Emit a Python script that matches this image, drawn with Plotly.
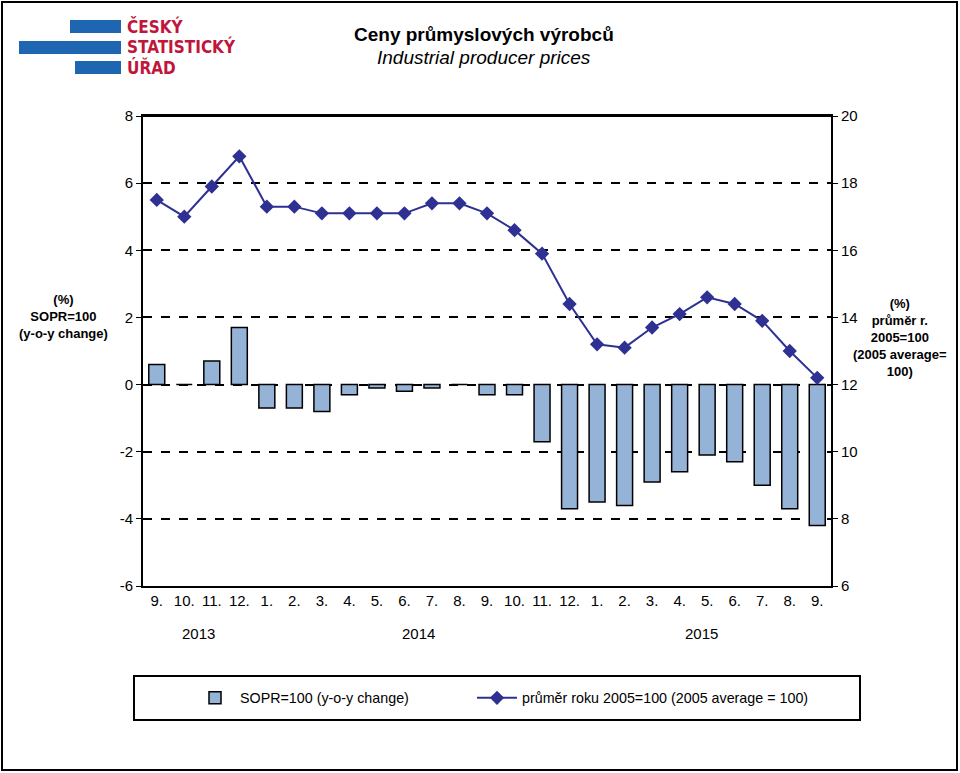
import plotly.graph_objects as go

months = ["9.", "10.", "11.", "12.", "1.", "2.", "3.", "4.", "5.", "6.", "7.", "8.",
          "9.", "10.", "11.", "12.", "1.", "2.", "3.", "4.", "5.", "6.", "7.", "8.", "9."]
yoy = [0.6, 0.0, 0.7, 1.7, -0.7, -0.7, -0.8, -0.3, -0.1, -0.2, -0.1, 0.0,
       -0.3, -0.3, -1.7, -3.7, -3.5, -3.6, -2.9, -2.6, -2.1, -2.3, -3.0, -3.7, -4.2]
avg2005 = [17.5, 17.0, 17.9, 18.8, 17.3, 17.3, 17.1, 17.1, 17.1, 17.1, 17.4, 17.4,
           17.1, 16.6, 15.9, 14.4, 13.2, 13.1, 13.7, 14.1, 14.6, 14.4, 13.9, 13.0, 12.2]
years = ["2013", "2014", "2015"]
year_pos = [1.5, 9.5, 19.8]

left_ticks = [-6, -4, -2, 0, 2, 4, 6, 8]
left_ticktext = ["-6", "-4", "-2", "0", "2", "4", "6", "8"]
right_ticks = [6, 8, 10, 12, 14, 16, 18, 20]

x = list(range(len(months)))

W, H = 960, 773
L, R, T, B = 143, 831, 116, 586

def px(xp):
    return (xp - L) / (R - L)

def py(yp):
    return (B - yp) / (B - T)

FONT = "Liberation Sans, Arial, sans-serif"

fig = go.Figure()
fig.add_trace(go.Bar(
    x=x, y=yoy, name="SOPR=100 (y-o-y change)",
    marker=dict(color="#95B3D7", line=dict(color="#000000", width=1.5)),
    width=0.58, legend="legend",
))
fig.add_trace(go.Scatter(
    x=x, y=avg2005, yaxis="y2", mode="lines+markers",
    name="průměr roku 2005=100 (2005 average = 100)",
    line=dict(color="#2E3192", width=2),
    marker=dict(symbol="diamond", size=11, color="#2E3192"),
    legend="legend2",
))

leg_common = dict(orientation="h", yanchor="middle", y=py(698), xanchor="left",
                  font=dict(size=14.3), bgcolor="rgba(0,0,0,0)", itemwidth=40)

fig.update_layout(
    width=W, height=H,
    margin=dict(l=L, r=W - R, t=T, b=H - B),
    plot_bgcolor="white", paper_bgcolor="white",
    font=dict(family=FONT, size=15, color="#000"),
    showlegend=True,
    legend=dict(x=px(190), **leg_common),
    legend2=dict(x=px(472), **leg_common),
    xaxis=dict(
        tickmode="array", tickvals=x, ticktext=months, range=[-0.5, len(months) - 0.5],
        showgrid=False, showline=True, linecolor="#000", linewidth=2, mirror=True,
        ticks="", tickfont=dict(size=15), zeroline=False,
    ),
    yaxis=dict(
        range=[-6, 8], tickmode="array", tickvals=left_ticks, ticktext=left_ticktext,
        showgrid=True, gridcolor="#000", griddash="dash", gridwidth=1.5,
        showline=True, linecolor="#000", linewidth=2, mirror=False,
        ticks="outside", ticklen=5, tickcolor="#000", zeroline=False,
        tickfont=dict(size=15),
    ),
    yaxis2=dict(
        range=[6, 20], tickmode="array", tickvals=right_ticks, overlaying="y", side="right",
        showgrid=False, showline=True, linecolor="#000", linewidth=2,
        ticks="outside", ticklen=5, tickcolor="#000", zeroline=False,
        tickfont=dict(size=15),
    ),
)

shapes = []
# outer frame
shapes.append(dict(type="rect", xref="paper", yref="paper", x0=px(2), x1=px(957), y0=py(2), y1=py(770),
                   line=dict(color="#000", width=2), fillcolor="rgba(0,0,0,0)", layer="below"))
# top solid border of plot
shapes.append(dict(type="line", xref="paper", yref="paper", x0=0, x1=1, y0=1, y1=1,
                   line=dict(color="#000", width=2)))
# legend box
shapes.append(dict(type="rect", xref="paper", yref="paper", x0=px(134), x1=px(860), y0=py(676), y1=py(720),
                   line=dict(color="#000", width=2), fillcolor="rgba(0,0,0,0)"))
# logo stripes
for (x0, x1, y0, y1) in [(70, 121, 20, 33), (19, 121, 41, 54), (75, 121, 61, 74)]:
    shapes.append(dict(type="rect", xref="paper", yref="paper", x0=px(x0), x1=px(x1), y0=py(y1), y1=py(y0),
                       line=dict(width=0), fillcolor="#1F66B2"))
fig.update_layout(shapes=shapes)

ann = []
LOGO_FONT = "DejaVu Sans Condensed, Liberation Sans Narrow, Liberation Sans, sans-serif"
for txt, yy in [("ČESKÝ", 27), ("STATISTICKÝ", 47), ("ÚŘAD", 67)]:
    ann.append(dict(text="<b>" + txt + "</b>", xref="paper", yref="paper", x=px(125), y=py(yy),
                    xanchor="left", yanchor="middle", showarrow=False,
                    font=dict(family=LOGO_FONT, size=17, color="#C0163C")))
ann.append(dict(text="<b>Ceny průmyslových výrobců</b>", xref="paper", yref="paper", x=px(484), y=py(34),
                xanchor="center", yanchor="middle", showarrow=False, font=dict(size=19, color="#000")))
ann.append(dict(text="<i>Industrial producer prices</i>", xref="paper", yref="paper", x=px(484), y=py(57),
                xanchor="center", yanchor="middle", showarrow=False, font=dict(size=19, color="#000")))
ann.append(dict(text="<b>(%)<br>SOPR=100<br>(y-o-y change)</b>", xref="paper", yref="paper", x=px(63), y=py(316),
                xanchor="center", yanchor="middle", showarrow=False, font=dict(size=13, color="#000")))
ann.append(dict(text="<b>(%)<br>průměr r.<br>2005=100<br>(2005 average=<br>100)</b>", xref="paper", yref="paper",
                x=px(900), y=py(337), xanchor="center", yanchor="middle", showarrow=False,
                font=dict(size=13, color="#000")))
for yr, pos in zip(years, year_pos):
    ann.append(dict(text=yr, xref="x", yref="paper", x=pos, y=py(633), xanchor="center", yanchor="middle",
                    showarrow=False, font=dict(size=15, color="#000")))
fig.update_layout(annotations=ann)

fig.write_html("out.html", config={"displayModeBar": False},
               post_script="document.body.style.margin='0px';document.body.style.overflow='hidden';")
